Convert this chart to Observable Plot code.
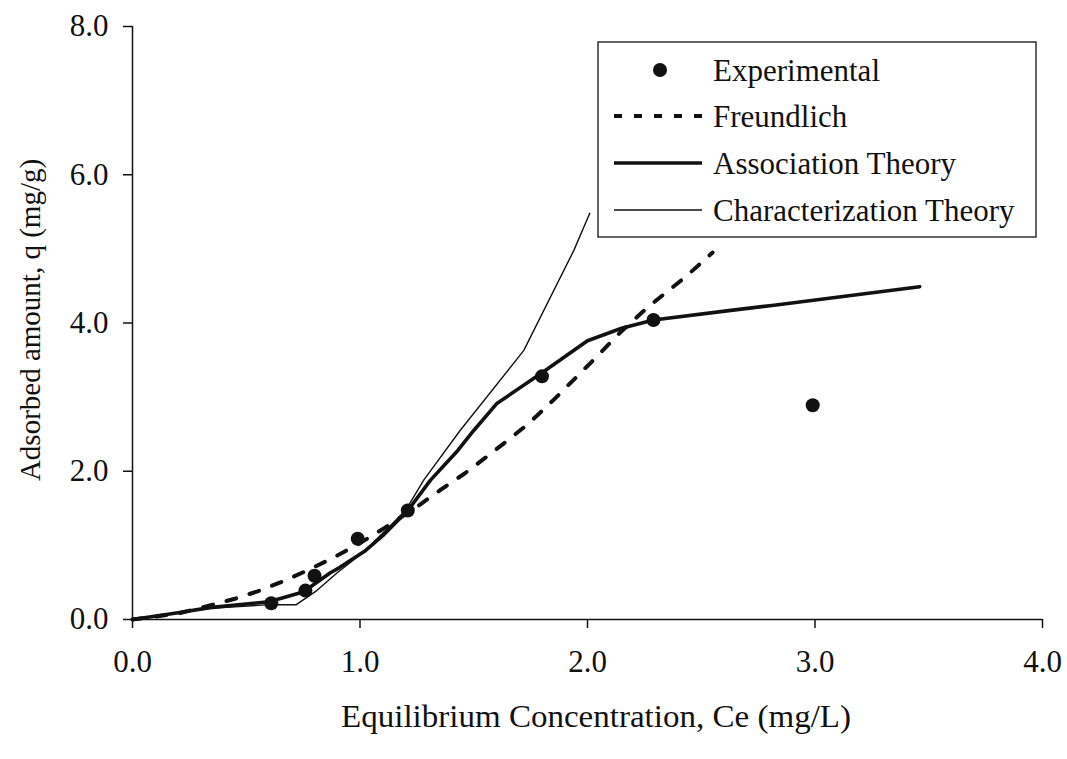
<!DOCTYPE html>
<html>
<head>
<meta charset="utf-8">
<script src="https://cdn.jsdelivr.net/npm/d3@7"></script>
<script src="https://cdn.jsdelivr.net/npm/@observablehq/plot@0.6"></script>
<style>
  html, body { margin: 0; padding: 0; background: #fff; }
  #chart svg { display: block; }
</style>
</head>
<body>
<div id="chart"></div>
<script>
// Experimental data
const expX = [0.61, 0.76, 0.80, 0.99, 1.21, 1.80, 2.29, 2.99];
const expY = [0.22, 0.39, 0.59, 1.09, 1.47, 3.28, 4.04, 2.89];

// Freundlich fit (dashed)
const frX = [0, 0.20, 0.34, 0.45, 0.55, 0.65, 0.76, 0.88, 1.00, 1.11, 1.25, 1.35, 1.46, 1.55, 1.63, 1.74, 1.85, 2.00, 2.14, 2.26, 2.43, 2.55];
const frY = [0, 0.08, 0.19, 0.28, 0.38, 0.50, 0.65, 0.83, 1.03, 1.24, 1.52, 1.74, 1.97, 2.18, 2.37, 2.64, 2.96, 3.42, 3.86, 4.20, 4.62, 4.95];

// Association Theory (thick solid)
const asX = [0, 0.20, 0.34, 0.60, 0.75, 0.87, 0.91, 1.02, 1.10, 1.21, 1.31, 1.43, 1.50, 1.60, 1.80, 2.00, 2.15, 2.29, 2.63, 2.82, 3.46];
const asY = [0, 0.09, 0.16, 0.24, 0.37, 0.63, 0.70, 0.92, 1.13, 1.47, 1.88, 2.28, 2.55, 2.91, 3.33, 3.76, 3.93, 4.04, 4.17, 4.24, 4.49];

// Characterization Theory (thin solid)
const chX = [0, 0.34, 0.60, 0.72, 0.81, 0.90, 1.02, 1.20, 1.28, 1.44, 1.72, 1.94, 2.01];
const chY = [0, 0.15, 0.20, 0.20, 0.39, 0.63, 0.92, 1.47, 1.88, 2.55, 3.63, 4.98, 5.48];

const xTicks = [0, 1, 2, 3, 4];
const yTicks = [0, 2, 4, 6, 8];
const xLabel = "Equilibrium Concentration, Ce (mg/L)";
const yLabel = "Adsorbed amount, q (mg/g)";
const legendNames = ["Experimental", "Freundlich", "Association Theory", "Characterization Theory"];

const toPts = (xs, ys) => xs.map((x, i) => ({x, y: ys[i]}));
const exp = toPts(expX, expY);
const fr = toPts(frX, frY);
const as = toPts(asX, asY);
const ch = toPts(chX, chY);

const W = 1067, H = 759;
const FONT = "'Liberation Serif', 'DejaVu Serif', serif";
const FS = 31;

const plot = Plot.plot({
  width: W,
  height: H,
  marginLeft: 132,
  marginRight: 25,
  marginTop: 26,
  marginBottom: 140,
  style: {fontFamily: FONT, fontSize: FS + "px", color: "#111", background: "#fff", overflow: "visible"},
  x: {domain: [0, 4]},
  y: {domain: [0, 8]},
  marks: [
    Plot.axisX({ticks: xTicks, tickFormat: d => d.toFixed(1), tickSize: 9, tickPadding: 21, label: null, stroke: "#111", strokeWidth: 1.5}),
    Plot.axisY({ticks: yTicks, tickFormat: d => d.toFixed(1), tickSize: 9, tickPadding: 15, label: null, stroke: "#111", strokeWidth: 1.5}),
    Plot.ruleX([0], {stroke: "#111", strokeWidth: 1.5}),
    Plot.ruleY([0], {stroke: "#111", strokeWidth: 1.5}),
    Plot.line(ch, {x: "x", y: "y", stroke: "#111", strokeWidth: 1.4}),
    Plot.line(fr, {x: "x", y: "y", stroke: "#111", strokeWidth: 4, strokeDasharray: "10,14"}),
    Plot.line(as, {x: "x", y: "y", stroke: "#111", strokeWidth: 3.6}),
    Plot.dot(exp, {x: "x", y: "y", r: 7, fill: "#111", stroke: "none"})
  ]
});

document.getElementById("chart").appendChild(plot);

const svg = d3.select(plot);

// Axis titles
svg.append("text")
  .attr("x", 596).attr("y", 716)
  .attr("text-anchor", "middle").attr("dominant-baseline", "central")
  .attr("textLength", 510).attr("lengthAdjust", "spacingAndGlyphs")
  .style("font-family", FONT).style("font-size", "31px").attr("fill", "#111")
  .text(xLabel);

svg.append("text")
  .attr("transform", "translate(30,320) rotate(-90)")
  .attr("text-anchor", "middle").attr("dominant-baseline", "central")
  .style("font-family", FONT).style("font-size", "29px").attr("fill", "#111")
  .text(yLabel);

// Legend
const lg = svg.append("g");
lg.append("rect").attr("x", 598).attr("y", 42).attr("width", 438).attr("height", 195)
  .attr("fill", "#fff").attr("stroke", "#111").attr("stroke-width", 1.3);
const rowsY = [70, 116, 163, 210];
lg.append("circle").attr("cx", 660).attr("cy", rowsY[0]).attr("r", 7).attr("fill", "#111");
lg.append("line").attr("x1", 614).attr("x2", 702).attr("y1", rowsY[1]).attr("y2", rowsY[1])
  .attr("stroke", "#111").attr("stroke-width", 4).attr("stroke-dasharray", "8,12");
lg.append("line").attr("x1", 614).attr("x2", 702).attr("y1", rowsY[2]).attr("y2", rowsY[2])
  .attr("stroke", "#111").attr("stroke-width", 3.6);
lg.append("line").attr("x1", 614).attr("x2", 702).attr("y1", rowsY[3]).attr("y2", rowsY[3])
  .attr("stroke", "#111").attr("stroke-width", 1.4);
legendNames.forEach((name, i) => {
  lg.append("text").attr("x", 713).attr("y", rowsY[i])
    .attr("text-anchor", "start").attr("dominant-baseline", "central")
    .style("font-family", FONT).style("font-size", "31px").attr("fill", "#111")
    .text(name);
});
</script>
</body>
</html>
